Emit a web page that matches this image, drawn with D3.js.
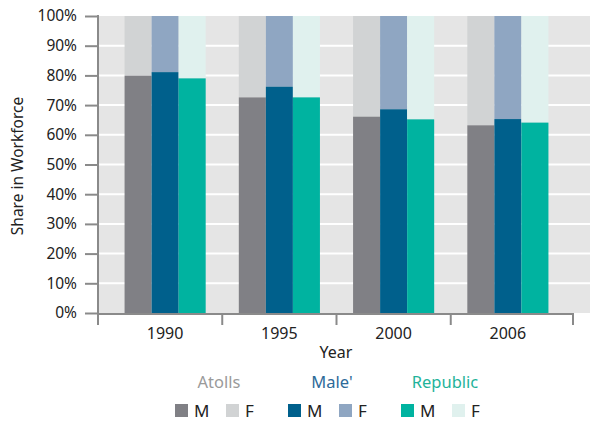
<!DOCTYPE html>
<html>
<head>
<meta charset="utf-8">
<script src="https://cdn.jsdelivr.net/npm/d3@7"></script>
<style>
  body { margin: 0; background: #fff; }
  text { font-family: "Noto Sans", sans-serif; }
</style>
</head>
<body>
<div id="chart"></div>
<script>
var w = 590,
    h = 425;

// data
var years = ["1990", "1995", "2000", "2006"];
var regions = ["Atolls", "Male'", "Republic"];
var maleShare = {
    "Atolls":   [79.9, 72.6, 66.1, 63.2],
    "Male'":    [81.1, 76.2, 68.6, 65.3],
    "Republic": [79.0, 72.6, 65.2, 64.1]
};
var femaleShare = {
    "Atolls":   [20.1, 27.4, 33.9, 36.8],
    "Male'":    [18.9, 23.8, 31.4, 34.7],
    "Republic": [21.0, 27.4, 34.8, 35.9]
};
var yTicks = [0, 10, 20, 30, 40, 50, 60, 70, 80, 90, 100];

var colM = { "Atolls": "#808085", "Male'": "#00608c", "Republic": "#00b3a0" };
var colF = { "Atolls": "#d1d3d4", "Male'": "#8fa6c2", "Republic": "#e0f1ee" };
var colTitle = { "Atolls": "#9a9a9a", "Male'": "#2e6a99", "Republic": "#1fb39a" };

var svg = d3.select("#chart")
    .append("svg")
    .attr("width", w)
    .attr("height", h);

var plotL = 98, plotR = 590, plotT = 16, plotB = 313, axisR = 573;

var y = d3.scaleLinear().domain([0, 100]).range([plotB, plotT]);
var x = d3.scaleBand().domain(years).range([108, 565]).paddingInner(0.29).paddingOuter(0.145);
var xr = d3.scaleBand().domain(regions).range([0, x.bandwidth()]);

// background
svg.append("rect")
    .attr("x", plotL).attr("y", plotT)
    .attr("width", plotR - plotL).attr("height", plotB - plotT)
    .style("fill", "#e5e5e5");

// grid
svg.selectAll(".grid")
    .data(yTicks.filter(function(d){ return d > 0 && d < 100; }))
    .enter().append("line")
    .attr("x1", plotL).attr("x2", plotR)
    .attr("y1", function(d){ return y(d); })
    .attr("y2", function(d){ return y(d); })
    .style("stroke", "#fff")
    .style("stroke-width", 2);

// bars
var g = svg.selectAll(".year")
    .data(years)
    .enter().append("g")
    .attr("transform", function(d){ return "translate(" + x(d) + ",0)"; });

regions.forEach(function(r) {
    g.append("rect")
        .attr("x", xr(r))
        .attr("width", xr.bandwidth())
        .attr("y", function(d, i){ return y(maleShare[r][i] + femaleShare[r][i]); })
        .attr("height", function(d, i){ return y(maleShare[r][i]) - y(maleShare[r][i] + femaleShare[r][i]); })
        .style("fill", colF[r]);
    g.append("rect")
        .attr("x", xr(r))
        .attr("width", xr.bandwidth())
        .attr("y", function(d, i){ return y(maleShare[r][i]); })
        .attr("height", function(d, i){ return y(0) - y(maleShare[r][i]); })
        .style("fill", colM[r]);
});

// y axis
var yAxis = d3.axisLeft(y)
    .tickValues(yTicks)
    .tickSize(13)
    .tickFormat(function(d){ return d + "%"; });

var ya = svg.append("g")
    .attr("transform", "translate(" + plotL + ",0)")
    .call(yAxis);
ya.select(".domain").remove();
ya.selectAll(".tick line").style("stroke", "#8a8a8a").style("stroke-width", 2);
ya.selectAll(".tick text")
    .attr("x", -21)
    .style("font-size", "15.5px")
    .style("fill", "#222");
svg.append("line")
    .attr("x1", plotL).attr("x2", plotL)
    .attr("y1", plotT - 1).attr("y2", plotB + 12)
    .style("stroke", "#8a8a8a").style("stroke-width", 2);

// x axis
var bounds = [plotL].concat(years.slice(1).map(function(d){
    return x(d) - x.step() * x.paddingInner() / 2;
})).concat([axisR]);

svg.append("line")
    .attr("x1", plotL).attr("x2", axisR)
    .attr("y1", plotB + 1).attr("y2", plotB + 1)
    .style("stroke", "#8a8a8a").style("stroke-width", 2);
svg.selectAll(".xtick")
    .data(bounds)
    .enter().append("line")
    .attr("x1", function(d){ return d; }).attr("x2", function(d){ return d; })
    .attr("y1", plotB).attr("y2", plotB + 12)
    .style("stroke", "#8a8a8a").style("stroke-width", 2);
svg.selectAll(".xlab")
    .data(years)
    .enter().append("text")
    .attr("x", function(d){ return x(d) + x.bandwidth() / 2; })
    .attr("y", 339)
    .attr("text-anchor", "middle")
    .style("font-size", "16px")
    .style("fill", "#222")
    .text(function(d){ return d; });

svg.append("text")
    .attr("x", 336).attr("y", 358)
    .attr("text-anchor", "middle")
    .style("font-size", "16px")
    .style("fill", "#222")
    .text("Year");

svg.append("text")
    .attr("transform", "translate(23,166) rotate(-90)")
    .attr("text-anchor", "middle")
    .style("font-size", "15.5px")
    .style("fill", "#222")
    .text("Share in Workforce");

// legend
var legX = { "Atolls": 175, "Male'": 288, "Republic": 401 };
regions.forEach(function(r) {
    var lx = legX[r];
    svg.append("text")
        .attr("x", lx + 44).attr("y", 388)
        .attr("text-anchor", "middle")
        .style("font-size", "16.5px")
        .style("fill", colTitle[r])
        .text(r);
    [["M", colM[r], 0], ["F", colF[r], 51]].forEach(function(s) {
        svg.append("rect")
            .attr("x", lx + s[2]).attr("y", 404)
            .attr("width", 13).attr("height", 13)
            .style("fill", s[1]);
        svg.append("text")
            .attr("x", lx + s[2] + 19).attr("y", 417)
            .style("font-size", "17px")
            .style("fill", "#222")
            .text(s[0]);
    });
});
</script>
</body>
</html>
